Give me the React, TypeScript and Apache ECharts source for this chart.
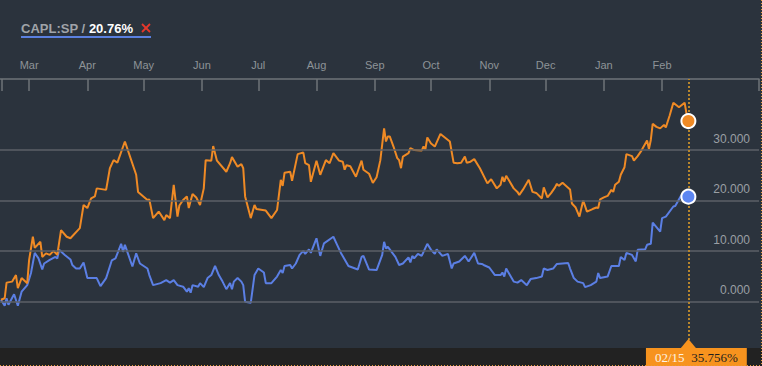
import React, { useEffect, useRef } from 'react';
import * as echarts from 'echarts';

// ---- data ----
const MONTH_LABELS = ['Jan', 'Feb', 'Mar', 'Apr', 'May', 'Jun', 'Jul', 'Aug', 'Sep', 'Oct', 'Nov', 'Dec'];
// month starts that carry a tick and label on the top axis: [year, monthIndex]
const TICK_MONTHS: [number, number][] = [
  [2015, 2], [2015, 3], [2015, 4], [2015, 5], [2015, 6], [2015, 7],
  [2015, 8], [2015, 9], [2015, 10], [2015, 11], [2016, 0], [2016, 1],
];
const Y_GRID_VALUES = [0, 10, 20, 30];
const LEGEND_TICKER = 'CAPL:SP';
const LEGEND_VALUE = '20.76%';
const CURSOR_DATE_LABEL = '02/15';
const CURSOR_VALUE_LABEL = '35.756%';

// day offsets counted from 2015-02-14
const orangeDays = [0,2,3,6,8,9,11,14,15,17,18,21,22,24,26,28,30,32,35,37,42,44,46,48,50,51,56,58,60,62,66,69,72,73,78,79,81,84,87,88,90,92,94,95,97,99,100,102,104,106,108,109,112,113,115,120,122,123,126,128,129,130,133,135,136,141,144,147,149,150,151,154,155,158,161,162,164,165,168,170,173,175,177,180,182,183,184,186,189,192,193,196,198,200,202,204,205,206,207,209,211,212,213,214,217,218,220,224,225,226,227,229,231,234,237,239,241,243,245,247,248,250,252,255,259,261,264,266,267,268,269,273,275,276,278,281,283,285,288,289,291,293,295,296,297,299,303,304,306,308,310,312,315,317,318,319,321,323,325,326,327,329,330,332,333,336,337,339,341,344,345,346,347,349,351,353,354,356,358,361,364,365,366];
const orangeValues = [0.3,0.6,3.7,3.9,5.2,2.6,4.6,3.6,8.2,12.8,10.6,11.8,8.8,9.5,9.2,10.0,9.2,14.1,12.8,12.5,14.5,19.1,18.5,20.4,20.8,22.4,22.1,26.4,28.0,27.5,31.7,28.4,25.1,21.7,20.1,20.2,16.5,17.8,16.1,17.1,16.5,23.1,16.8,19.0,20.1,20.8,18.5,21.3,20.6,19.1,22.4,28.0,27.9,30.8,27.9,25.7,27.4,28.6,26.7,27.2,26.4,20.8,16.5,19.1,18.3,18.0,16.5,18.1,24.1,22.9,25.5,25.7,23.9,29.2,29.5,27.4,27.0,23.7,27.9,25.1,28.0,27.4,29.4,27.9,27.7,26.1,27.0,26.8,24.7,27.9,26.1,25.3,23.5,24.6,28.0,34.3,31.7,32.7,32.7,30.7,28.4,28.0,26.4,28.7,29.4,30.4,30.0,29.9,30.7,30.2,32.5,31.3,30.7,33.2,32.3,31.7,27.5,27.4,27.5,28.7,27.5,27.7,28.2,26.4,23.4,24.2,22.4,23.1,24.7,23.7,24.9,22.4,21.7,21.1,22.2,24.1,21.7,21.5,20.4,22.6,20.6,21.5,22.6,23.3,22.9,23.5,22.2,19.4,18.6,16.8,20.0,17.8,18.3,18.6,18.5,20.2,20.6,20.9,22.1,21.7,23.1,23.7,25.1,26.6,29.2,28.8,27.9,28.8,29.9,31.9,30.2,32.0,35.2,34.6,34.3,35.0,34.5,36.8,39.4,38.5,39.4,37.2,35.756];

const blueDays = [0,2,3,4,7,9,11,14,16,18,20,22,23,26,29,30,31,34,37,38,40,42,44,46,51,53,56,59,61,64,65,66,70,72,74,78,79,81,85,88,90,92,94,97,99,100,101,102,105,106,108,110,112,114,116,118,120,122,123,124,126,128,129,130,133,135,137,140,141,144,147,149,150,151,154,155,157,159,161,162,164,165,168,170,172,177,179,181,185,190,192,193,196,200,203,204,205,206,210,212,214,217,218,219,220,222,224,227,229,231,232,235,238,240,241,244,247,249,252,254,256,257,260,263,266,267,268,269,273,275,277,280,282,285,288,289,291,294,296,299,302,303,305,307,310,311,314,317,318,319,323,325,329,330,331,332,333,336,338,339,343,344,346,347,351,352,354,358,359,362,363,366];
const blueValues = [0.3,-0.9,0.6,-0.7,1.4,-0.9,1.9,3.2,5.6,9.6,8.5,6.3,7.5,8.2,8.8,8.5,10.2,9.2,8.3,7.2,6.5,6.5,7.7,4.6,4.6,3.0,4.6,8.1,8.5,11.4,9.8,11.2,6.9,9.5,7.5,6.5,5.2,3.2,3.6,4.2,3.7,4.2,3.2,2.9,1.9,2.6,1.7,3.2,2.9,3.6,2.8,4.6,5.2,7.0,5.2,3.9,2.4,3.6,2.4,3.9,4.6,3.9,3.2,-0.1,-0.3,5.2,6.5,5.7,3.6,3.6,4.9,6.2,5.6,7.0,7.2,6.5,7.5,9.2,10.0,9.4,10.3,9.6,12.5,9.0,11.5,12.8,11.2,9.6,7.0,6.3,8.8,9.0,6.3,6.2,9.2,11.8,10.5,10.8,8.8,7.2,7.5,8.7,7.7,9.0,8.5,9.4,9.0,11.4,10.2,9.4,10.3,9.0,9.4,6.5,7.5,7.9,9.0,7.9,9.6,7.5,7.4,7.2,6.7,5.2,5.2,5.7,4.9,6.5,3.9,3.7,4.2,3.2,4.4,4.6,4.9,6.5,6.2,6.5,7.4,7.5,7.6,6.5,4.6,3.9,3.6,2.8,3.2,3.9,5.6,4.6,4.9,7.0,7.0,8.8,8.5,8.2,9.6,9.2,7.9,10.2,10.3,11.2,11.4,15.6,13.8,16.5,16.8,18.8,18.9,20.9,21.1,20.76];

// ---- styling ----
const BG = '#2b333d';
const BAND = '#222222';
const ORANGE = '#ef8a25';
const BLUE = '#5b7fe4';
const GRID_LINE = '#5c6167';
const AXIS_LINE = '#6f7479';
const LABEL = '#8e9398';
const SANS = '"Liberation Sans", Arial, Helvetica, sans-serif';
const SERIF = '"Liberation Serif", "Times New Roman", serif';

const DAY = 86400000;
const BASE = new Date(2015, 1, 14).getTime();
const toPairs = (days: number[], vals: number[]) => days.map((d, i) => [BASE + d * DAY, vals[i]]);

export default function App() {
  const ref = useRef<HTMLDivElement>(null);
  useEffect(() => {
    if (!ref.current) return;
    const chart = echarts.init(ref.current, undefined, { renderer: 'svg' });
    const orange = toPairs(orangeDays, orangeValues);
    const blue = toPairs(blueDays, blueValues);
    const oLast = orange[orange.length - 1];
    const bLast = blue[blue.length - 1];
    const yMin = -9.27;
    const yMax = 44.1;
    const xMin = BASE - 0.5 * DAY;
    const xMax = xMin + 404.1 * DAY;
    const monthTicks = TICK_MONTHS.map(([y, m]) => new Date(y, m, 1).getTime());

    chart.setOption({
      animation: false,
      backgroundColor: BG,
      grid: { left: 0, right: 3, top: 79, bottom: 18, containLabel: false },
      xAxis: {
        type: 'value',
        position: 'top',
        min: xMin,
        max: xMax,
        axisLine: { show: true, onZero: false, lineStyle: { color: AXIS_LINE, width: 1.5 } },
        axisTick: {
          show: true,
          inside: true,
          length: 12,
          customValues: [xMin + 0.9 * DAY, ...monthTicks, xMax],
          lineStyle: { color: AXIS_LINE, width: 1.5 },
        },
        axisLabel: {
          color: LABEL,
          fontSize: 11,
          fontFamily: SANS,
          margin: 9,
          hideOverlap: false,
          customValues: monthTicks,
          formatter: (v: number) => MONTH_LABELS[new Date(v).getMonth()],
        },
        splitLine: { show: false },
      },
      yAxis: { type: 'value', min: yMin, max: yMax, show: false, splitLine: { show: false } },
      graphic: [
        { type: 'rect', left: 0, bottom: 0, z: 0, shape: { width: 762, height: 18 }, style: { fill: BAND } },
        {
          type: 'text', x: 21, y: 28, z: 10,
          style: {
            text: `{a|${LEGEND_TICKER} / }{b|${LEGEND_VALUE}}`,
            verticalAlign: 'middle',
            rich: {
              a: { fill: '#a0a4a9', fontSize: 13, fontWeight: 'bold', fontFamily: SANS },
              b: { fill: '#ffffff', fontSize: 13, fontWeight: 'bold', fontFamily: SANS },
            },
          },
        },
        { type: 'line', z: 10, shape: { x1: 142, y1: 24, x2: 150, y2: 32 }, style: { stroke: '#e5372c', lineWidth: 1.8 } },
        { type: 'line', z: 10, shape: { x1: 150, y1: 24, x2: 142, y2: 32 }, style: { stroke: '#e5372c', lineWidth: 1.8 } },
        { type: 'rect', z: 10, shape: { x: 21, y: 36, width: 130, height: 2 }, style: { fill: '#5b80e0' } },
        { type: 'line', z: 10, shape: { x1: 761.5, y1: 0, x2: 761.5, y2: 366 }, style: { stroke: '#e69a3c', lineWidth: 1, lineDash: [1, 2] } },
        { type: 'line', z: 10, shape: { x1: 0, y1: 365.5, x2: 762, y2: 365.5 }, style: { stroke: '#e69a3c', lineWidth: 1, lineDash: [1, 2] } },
      ],
      series: [
        {
          type: 'line',
          name: 'grid',
          data: [],
          silent: true,
          markLine: {
            silent: true,
            symbol: ['none', 'none'],
            lineStyle: { color: GRID_LINE, width: 1.5, type: 'solid' },
            label: {
              show: true,
              position: 'insideEndTop',
              formatter: (p: any) => Number(p.value).toFixed(3),
              color: '#9a9fa4',
              fontSize: 12,
              fontFamily: SANS,
              padding: [0, 4, 0, 0],
            },
            emphasis: { disabled: true },
            data: Y_GRID_VALUES.map((v) => ({ yAxis: v })),
          },
        },
        {
          type: 'line',
          name: 'blue',
          data: blue,
          showSymbol: false,
          lineStyle: { color: BLUE, width: 2 },
          itemStyle: { color: BLUE },
          markPoint: {
            symbol: 'circle',
            symbolSize: 14,
            label: { show: false },
            itemStyle: { color: '#5c86f2', borderColor: '#ffffff', borderWidth: 2 },
            data: [{ coord: bLast }],
          },
        },
        {
          type: 'line',
          name: 'orange',
          data: orange,
          showSymbol: false,
          lineStyle: { color: ORANGE, width: 2 },
          itemStyle: { color: ORANGE },
          markLine: {
            silent: true,
            symbol: ['none', 'none'],
            lineStyle: { color: '#b8862c', width: 2, type: [2, 2] },
            label: {
              show: true,
              position: 'start',
              distance: 0,
              offset: [8, 0],
              backgroundColor: '#f7931e',
              padding: [3, 9, 2, 9],
              formatter: `{a|${CURSOR_DATE_LABEL}}  {b|${CURSOR_VALUE_LABEL}}`,
              rich: {
                a: { color: '#fdf3e4', fontSize: 13, fontFamily: SERIF },
                b: { color: '#1e1e1e', fontSize: 13, fontFamily: SERIF },
              },
            },
            data: [{ xAxis: oLast[0] }],
          },
          markPoint: {
            label: { show: false },
            data: [
              {
                coord: [oLast[0], yMin],
                symbol: 'triangle',
                symbolSize: [15, 9],
                symbolOffset: [0, -4.5],
                itemStyle: { color: '#f7931e' },
              },
              {
                coord: oLast,
                symbol: 'circle',
                symbolSize: 14,
                itemStyle: { color: ORANGE, borderColor: '#ffffff', borderWidth: 2 },
              },
            ],
          },
        },
      ],
    });
    return () => chart.dispose();
  }, []);
  return (
    <div
      ref={ref}
      style={{ position: 'fixed', left: 0, top: 0, width: 762, height: 366, background: BG }}
    />
  );
}
